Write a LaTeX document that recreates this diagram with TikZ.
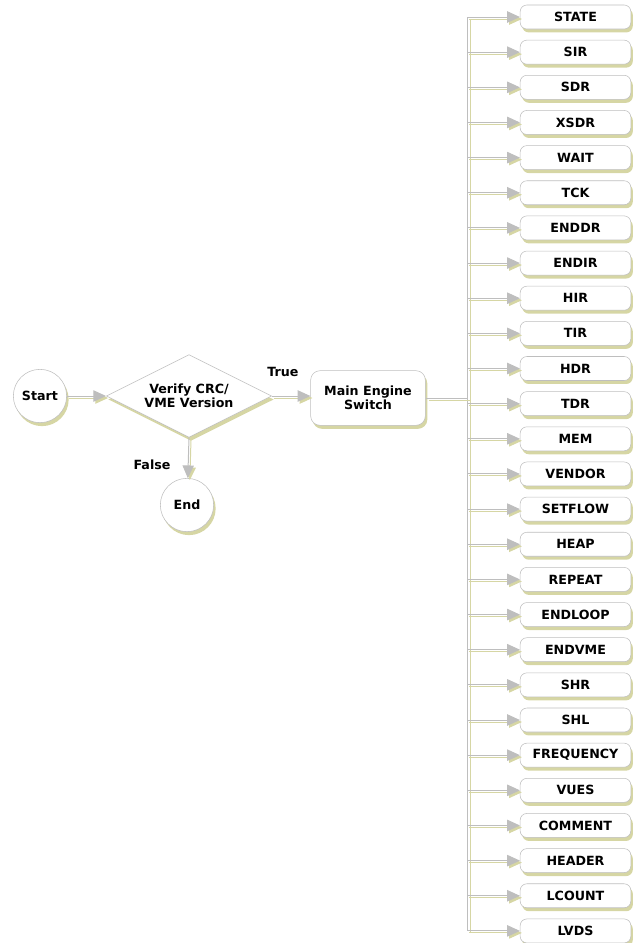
\documentclass[tikz,border=0pt]{standalone}
\usepackage{fontspec}
\setmainfont{DejaVu Sans}
\usetikzlibrary{shapes.geometric,shadows,arrows.meta,positioning}
\definecolor{linegrey}{RGB}{190,190,190}
\definecolor{khaki}{RGB}{214,214,164}

\begin{document}
\begin{tikzpicture}[x=0.75pt,y=-0.75pt,font=\fontsize{9.5}{10.5}\selectfont\bfseries]

\tikzset{flowshadow/.style={drop shadow={shadow xshift=1.5pt,shadow yshift=-2.6pt,fill=khaki,opacity=1}},
cmdnode/.style={draw=linegrey,fill=white,rounded corners=5pt,minimum width=83pt,minimum height=18pt,inner sep=0pt,flowshadow},
enginenode/.style={draw=linegrey,fill=white,rounded corners=7pt,minimum width=86pt,minimum height=41pt,inner sep=0pt,align=center,flowshadow},
termnode/.style={draw=linegrey,fill=white,shape=circle,minimum size=40pt,inner sep=0pt,flowshadow},
testnode/.style={draw=linegrey,fill=white,shape=diamond,aspect=2,minimum width=124pt,minimum height=62pt,inner sep=0pt,align=center,flowshadow},
conn/.style={draw=linegrey,line width=0.75pt,-{Triangle[length=9.5pt,width=8.5pt,fill=linegrey]},
  preaction={draw=khaki,line width=0.75pt,-{Triangle[length=9.5pt,width=8.5pt,fill=khaki]},transform canvas={shift={(1.5pt,-1.5pt)}}}},
bus/.style={draw=linegrey,line width=0.75pt,
  preaction={draw=khaki,line width=0.75pt,transform canvas={shift={(2.25pt,-1.5pt)}}}}}

\useasboundingbox (0,0) rectangle (633,943);

% Start, test and end
\node[termnode] (start) at (40,396) {Start};
\node[testnode] (verify) at (189,396) {Verify CRC/\\VME Version};
\node[termnode] (end) at (187,505) {End};
\node[enginenode] (engine) at (368,398) {Main Engine\\Switch};

\draw[conn] (start) -- (verify.west);
\draw[conn] (verify.east) -- (verify.east -| engine.west);
\draw[conn] (verify.south) -- (end);
\node (true) at (283,372) {True};
\node (false) at (152,465) {False};

% Command boxes
\foreach \name [count=\i from 0] in {STATE,SIR,SDR,XSDR,WAIT,TCK,ENDDR,ENDIR,HIR,TIR,HDR,TDR,MEM,VENDOR,SETFLOW,HEAP,REPEAT,ENDLOOP,ENDVME,SHR,SHL,FREQUENCY,VUES,COMMENT,HEADER,LCOUNT,LVDS}
{
\node[cmdnode] (b\i) at (575.5,17+35.15*\i) {\name};
\coordinate (t\i) at (467,17+35.15*\i);
}

% Bus
\coordinate (engineBus) at (467,398);
\draw[bus] (t0) -- (t26);
\draw[bus] (engine.east |- engineBus) -- (engineBus);
\foreach \i in {0,...,26} \draw[conn] (t\i) -- (b\i.west);

\end{tikzpicture}
\end{document}
